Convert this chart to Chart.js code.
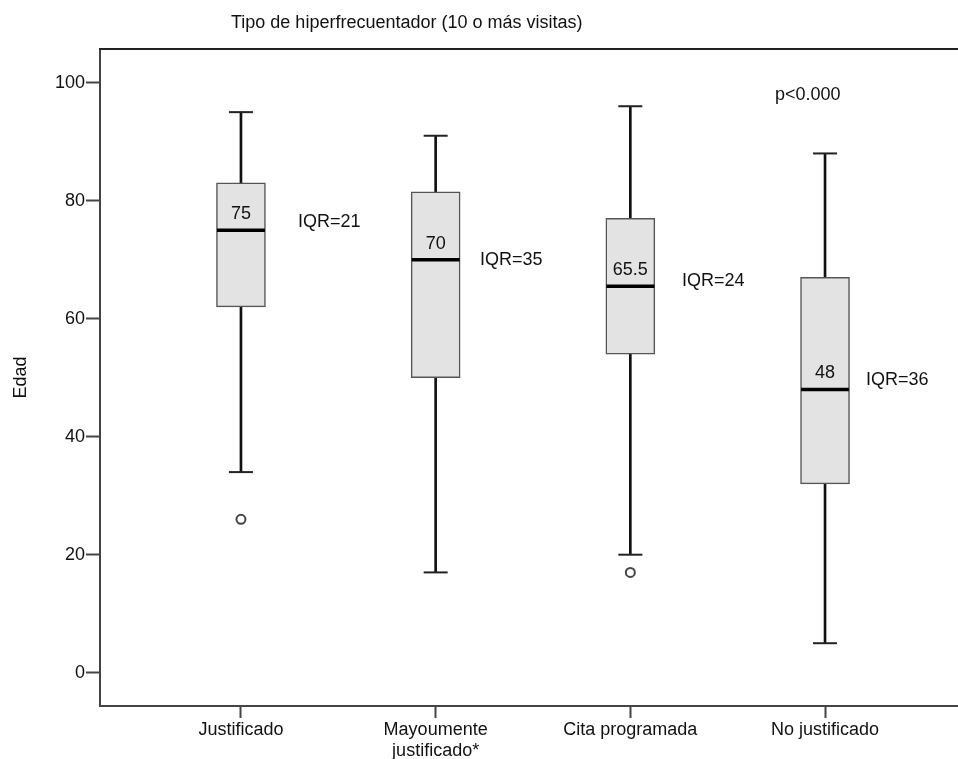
<!DOCTYPE html>
<html>
<head>
    <meta charset="utf-8">
    <title>Edad por tipo de hiperfrecuentador</title>
    <script src="https://cdn.jsdelivr.net/npm/chart.js"></script>
    <style>
        body { margin: 0; background: #fff; }
        #wrap { width: 958px; height: 759px; position: relative; }
    </style>
</head>
<body>
    <div id="wrap"><canvas id="grafico"></canvas></div>

    <script>
        // Datos
        const categorias = ['Justificado', ['Mayoumente', 'justificado*'], 'Cita programada', 'No justificado'];
        const bigoteInf = [34, 17, 20, 5];
        const q1 = [62, 50, 54, 32];
        const medianas = [75, 70, 65.5, 48];
        const q3 = [83, 81.5, 77, 67];
        const bigoteSup = [95, 91, 96, 88];
        const atipicos = [[26], [], [17], []];
        const iqr = [21, 35, 24, 36];
        const ticksY = [0, 20, 40, 60, 80, 100];

        // notas IQR (coordenadas en unidades del grafico)
        const notasIqrX = [1.293, 2.228, 3.265, 4.21];
        const notasIqrY = [76.4, 70, 66.4, 49.6];

        const fuente = "'Liberation Sans', Arial, Helvetica, sans-serif";
        const xs = categorias.map((c, i) => i + 1);

        const puntosAtipicos = [];
        atipicos.forEach((lista, i) => lista.forEach(v => puntosAtipicos.push({ x: i + 1, y: v })));

        // textos: titulo, medianas, IQR y p
        const textos = {
            id: 'textos',
            afterDatasetsDraw(chart) {
                const ctx = chart.ctx;
                const sx = chart.scales.x, sy = chart.scales.y;
                const area = chart.chartArea;
                ctx.save();
                ctx.fillStyle = '#111';
                ctx.font = '18px ' + fuente;

                // marco superior
                ctx.strokeStyle = '#222';
                ctx.lineWidth = 2;
                ctx.beginPath();
                ctx.moveTo(area.left - 1, area.top);
                ctx.lineTo(area.right, area.top);
                ctx.stroke();

                ctx.textBaseline = 'middle';
                ctx.textAlign = 'center';
                medianas.forEach((m, i) => {
                    ctx.fillText(String(m), sx.getPixelForValue(xs[i]), sy.getPixelForValue(m) - 16);
                });

                ctx.textAlign = 'left';
                iqr.forEach((v, i) => {
                    ctx.fillText('IQR=' + v, sx.getPixelForValue(notasIqrX[i]), sy.getPixelForValue(notasIqrY[i]));
                });
                ctx.fillText('p<0.000', sx.getPixelForValue(3.743), sy.getPixelForValue(97.9));

                ctx.fillText('Tipo de hiperfrecuentador (10 o más visitas)', 231, 23);
                ctx.restore();
            }
        };

        const ctx = document.getElementById('grafico').getContext('2d');
        new Chart(ctx, {
            type: 'bar',
            data: {
                datasets: [
                    {
                        // bigotes
                        type: 'bar',
                        data: xs.map((x, i) => ({ x: x, y: [bigoteInf[i], bigoteSup[i]] })),
                        backgroundColor: '#111',
                        borderWidth: 0,
                        barThickness: 2,
                        grouped: false,
                        order: 4
                    },
                    {
                        // cajas
                        type: 'bar',
                        data: xs.map((x, i) => ({ x: x, y: [q1[i], q3[i]] })),
                        backgroundColor: '#e3e3e3',
                        borderColor: '#555',
                        borderWidth: 1.5,
                        borderSkipped: false,
                        barThickness: 49,
                        grouped: false,
                        order: 3
                    },
                    {
                        // remates de bigotes
                        type: 'line',
                        data: xs.flatMap((x, i) => [{ x: x, y: bigoteInf[i] }, { x: x, y: bigoteSup[i] }]),
                        showLine: false,
                        pointStyle: 'line',
                        pointRadius: 12,
                        pointBorderColor: '#222',
                        pointBorderWidth: 2,
                        order: 2
                    },
                    {
                        // medianas
                        type: 'line',
                        data: xs.map((x, i) => ({ x: x, y: medianas[i] })),
                        showLine: false,
                        pointStyle: 'line',
                        pointRadius: 24,
                        pointBorderColor: '#000',
                        pointBorderWidth: 3.5,
                        order: 1
                    },
                    {
                        // atipicos
                        type: 'line',
                        data: puntosAtipicos,
                        showLine: false,
                        pointStyle: 'circle',
                        pointRadius: 4.5,
                        pointBackgroundColor: '#fff',
                        pointBorderColor: '#444',
                        pointBorderWidth: 2,
                        order: 0
                    }
                ]
            },
            options: {
                responsive: true,
                maintainAspectRatio: false,
                animation: false,
                events: [],
                layout: { autoPadding: false, padding: { top: 49, left: 0, right: 0, bottom: 0 } },
                plugins: {
                    legend: { display: false },
                    tooltip: { enabled: false }
                },
                scales: {
                    x: {
                        type: 'linear',
                        offset: false,
                        min: 0.276,
                        max: 4.683,
                        afterBuildTicks: s => { s.ticks = xs.map(v => ({ value: v })); },
                        afterFit: s => { s.height = 53; s.paddingLeft = 0; s.paddingRight = 0; },
                        ticks: {
                            color: '#111',
                            font: { family: fuente, size: 18 },
                            padding: 1,
                            maxRotation: 0,
                            autoSkip: false,
                            callback: v => categorias[v - 1]
                        },
                        grid: {
                            offset: false,
                            drawOnChartArea: false,
                            drawTicks: true,
                            tickLength: 12,
                            tickWidth: 2,
                            tickColor: '#444'
                        },
                        border: { color: '#444', width: 2 }
                    },
                    y: {
                        min: -5.64,
                        max: 105.7,
                        afterBuildTicks: s => { s.ticks = ticksY.map(v => ({ value: v })); },
                        afterFit: s => { s.width = 100; },
                        ticks: {
                            color: '#111',
                            font: { family: fuente, size: 18 },
                            padding: 1
                        },
                        grid: {
                            drawOnChartArea: false,
                            drawTicks: true,
                            tickLength: 14,
                            tickWidth: 2,
                            tickColor: '#444'
                        },
                        border: { color: '#444', width: 2 },
                        title: {
                            display: true,
                            text: 'Edad',
                            color: '#111',
                            font: { family: fuente, size: 18 },
                            padding: { top: 10, bottom: 0 }
                        }
                    }
                }
            },
            plugins: [textos]
        });
    </script>
</body>
</html>
